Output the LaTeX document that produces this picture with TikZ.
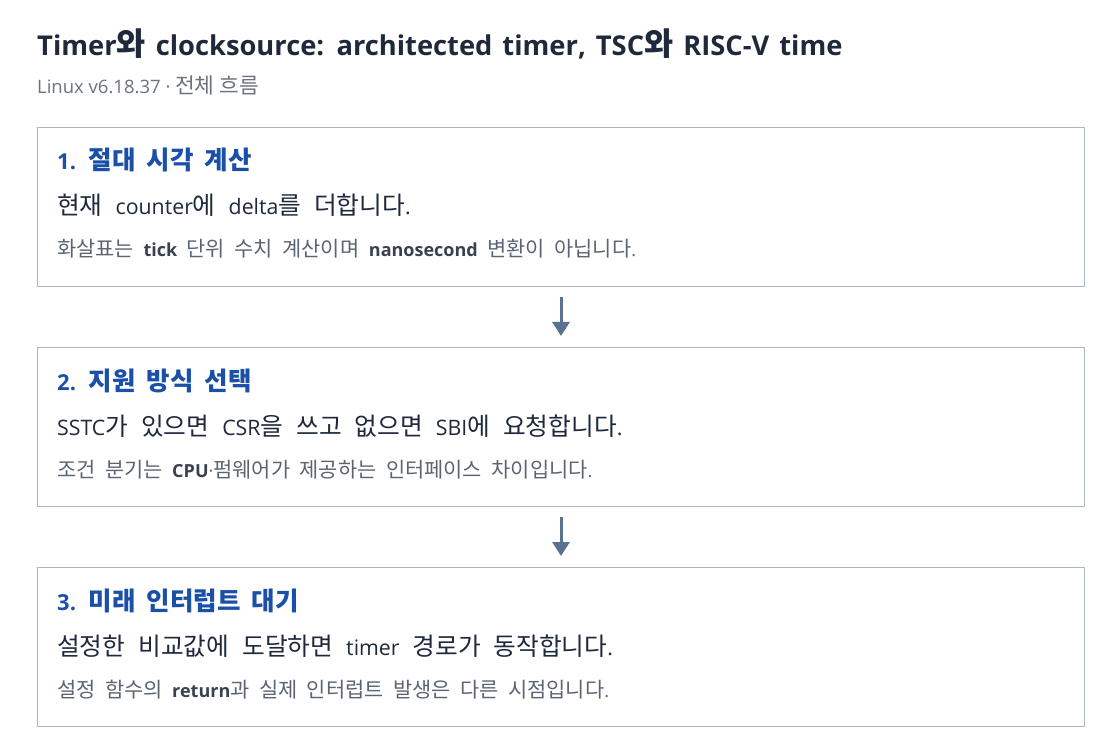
\documentclass[tikz,border=0pt]{standalone}
\usepackage{fontspec}
\usetikzlibrary{arrows.meta}
\setmainfont{Open Sans}
\newfontfamily\krfont{Noto Sans CJK KR}[Scale=1.16]
% Hangul syllables switch to the CJK family
\newXeTeXintercharclass\krclass
\count255="AC00
\loop\XeTeXcharclass\count255=\krclass\ifnum\count255<"D7A3 \advance\count255 by 1 \repeat
\XeTeXinterchartoks 0 \krclass = {\begingroup\krfont}
\XeTeXinterchartoks 4095 \krclass = {\begingroup\krfont}
\XeTeXinterchartoks \krclass 0 = {\endgroup}
\XeTeXinterchartoks \krclass 4095 = {\endgroup}
\XeTeXinterchartokenstate=1
\definecolor{titlecol}{RGB}{30,41,59}
\definecolor{subcol}{RGB}{107,114,128}
\definecolor{headcol}{RGB}{26,80,168}
\definecolor{bodycol}{RGB}{30,41,59}
\definecolor{notecol}{RGB}{91,100,114}
\definecolor{codecol}{RGB}{55,65,81}
\definecolor{framecol}{RGB}{169,182,197}
\definecolor{arrowcol}{RGB}{90,114,145}
\newcommand{\code}[1]{{\bfseries\color{codecol}#1}}
\newcommand{\titlefont}{\fontsize{27.3}{32}\selectfont\bfseries\spaceskip 10pt\relax}
\newcommand{\subfont}{\fontsize{18.5}{22}\selectfont}
\newcommand{\headfont}{\fontsize{22}{26}\selectfont\bfseries\spaceskip 11pt\relax}
\newcommand{\bodyfont}{\fontsize{21.3}{25}\selectfont\spaceskip 13pt\relax}
\newcommand{\notefont}{\fontsize{18}{22}\selectfont\spaceskip 9.5pt\relax}
\tikzset{
  stepbox/.style={draw=framecol, line width=1pt, minimum width=1047pt, minimum height=159pt, anchor=north west, inner sep=0pt},
  steptitle/.style={anchor=base west, inner sep=0pt, text=headcol, font=\headfont},
  stepbody/.style={anchor=base west, inner sep=0pt, text=bodycol, font=\bodyfont},
  stepnote/.style={anchor=base west, inner sep=0pt, text=notecol, font=\notefont},
  flowarrow/.style={draw=arrowcol, line width=3pt, -{Triangle[length=14pt,width=17pt]}}
}
\begin{document}
\begin{tikzpicture}[x=1pt,y=-1pt]
  \useasboundingbox [fill=white] (0,0) rectangle (1120,754);
  \node [anchor=base west, inner sep=0pt, text=titlecol, font=\titlefont] (title) at (37,55.5) {Timer와 clocksource: architected timer, TSC와 RISC-V time};
  \node [anchor=base west, inner sep=0pt, text=subcol, font=\subfont] (subtitle) at (37,94) {Linux v6.18.37 · 전체 흐름};

  \node [stepbox] (box1) at (37,127) {};
  \node [steptitle] (head1) at (57,170) {1. 절대 시각 계산};
  \node [stepbody] (body1) at (57,215) {현재 counter에 delta를 더합니다.};
  \node [stepnote] (note1) at (57,257) {화살표는 \code{tick} 단위 수치 계산이며 \code{nanosecond} 변환이 아닙니다.};

  \node [stepbox] (box2) at (37,347) {};
  \node [steptitle] (head2) at (57,390) {2. 지원 방식 선택};
  \node [stepbody] (body2) at (57,435) {SSTC가 있으면 CSR을 쓰고 없으면 SBI에 요청합니다.};
  \node [stepnote] (note2) at (57,477) {조건 분기는 \code{CPU}·펌웨어가 제공하는 인터페이스 차이입니다.};

  \node [stepbox] (box3) at (37,567) {};
  \node [steptitle] (head3) at (57,610) {3. 미래 인터럽트 대기};
  \node [stepbody] (body3) at (57,655) {설정한 비교값에 도달하면 timer 경로가 동작합니다.};
  \node [stepnote] (note3) at (57,697) {설정 함수의 \code{return}과 실제 인터럽트 발생은 다른 시점입니다.};

  \draw [flowarrow] ([yshift=-10pt]box1.south) -- ([yshift=11pt]box2.north);
  \draw [flowarrow] ([yshift=-10pt]box2.south) -- ([yshift=11pt]box3.north);
\end{tikzpicture}
\end{document}
